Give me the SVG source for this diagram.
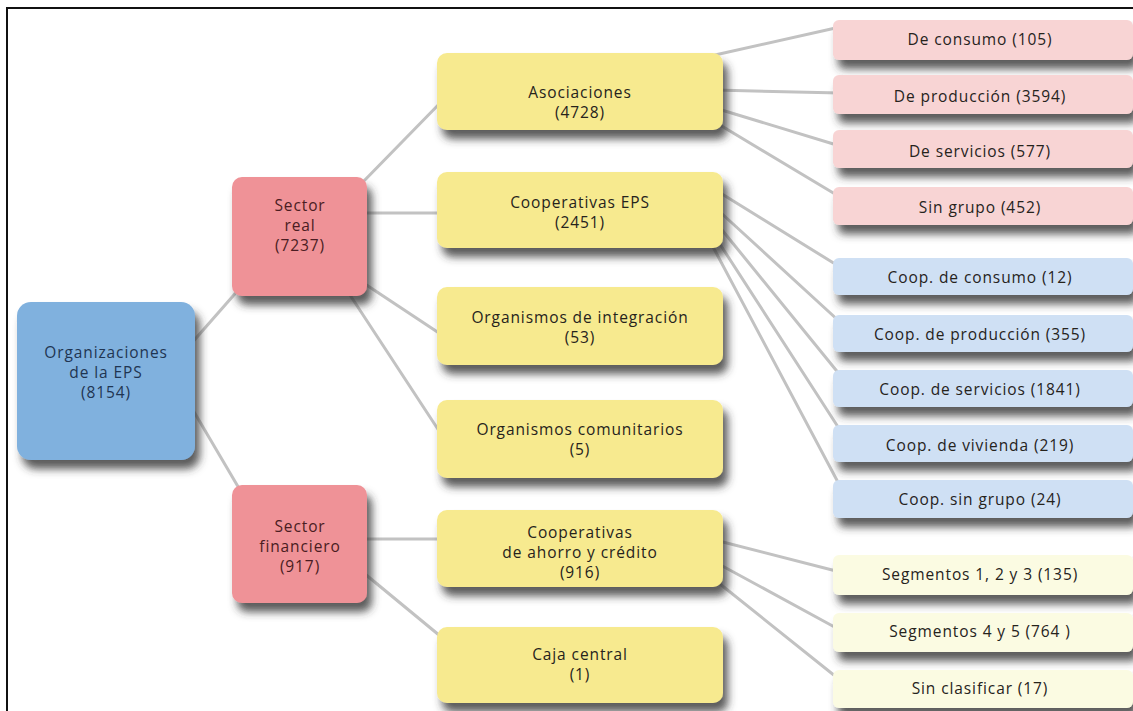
<svg xmlns="http://www.w3.org/2000/svg" width="1133" height="711" viewBox="0 0 1133 711">
<defs>
<filter id="sh" x="-20%" y="-20%" width="150%" height="170%">
<feGaussianBlur in="SourceAlpha" stdDeviation="4.5"/>
<feOffset dx="5" dy="9" result="b"/>
<feFlood flood-color="#333" flood-opacity="0.8"/>
<feComposite in2="b" operator="in"/>
<feMerge><feMergeNode/><feMergeNode in="SourceGraphic"/></feMerge>
</filter>
<style>
text{font-family:"Open Sans","Noto Sans","DejaVu Sans",sans-serif;font-size:15.5px;font-weight:500;letter-spacing:0.9px;text-anchor:middle;fill:#26231c}
.big{filter:url(#sh)}
.root{fill:#80b1de}
.sec{fill:#ef9297}
.mid{fill:#f7ea8f}
.rp{fill:#f8d4d4}
.rb{fill:#cfe0f4}
.ry{fill:#fbfbe2}
.c line{stroke:#c2c2c2;stroke-width:3;stroke-linecap:round}
#root text{fill:#1f3552}
.sect text{fill:#4a1c22}
</style>
</defs>
<rect width="1133" height="711" fill="#fff"/>
<path d="M7 711 V8 H1133" fill="none" stroke="#111" stroke-width="2"/>
<g id="connectors" class="c">
<line x1="190" y1="345" x2="240" y2="288"/>
<line x1="190" y1="405" x2="240" y2="490"/>
<line x1="360" y1="185" x2="445" y2="98"/>
<line x1="360" y1="213" x2="445" y2="213"/>
<line x1="365" y1="284" x2="445" y2="337"/>
<line x1="348" y1="292" x2="445" y2="440"/>
<line x1="360" y1="539" x2="445" y2="539"/>
<line x1="365" y1="574" x2="445" y2="640"/>
<line x1="715" y1="55" x2="840" y2="27"/>
<line x1="715" y1="90" x2="840" y2="93"/>
<line x1="715" y1="108" x2="840" y2="146"/>
<line x1="715" y1="122" x2="840" y2="197"/>
<line x1="722" y1="194" x2="840" y2="267"/>
<line x1="720" y1="212" x2="840" y2="322"/>
<line x1="718" y1="225" x2="840" y2="375"/>
<line x1="716" y1="238" x2="840" y2="430"/>
<line x1="712" y1="245" x2="840" y2="486"/>
<line x1="715" y1="540" x2="840" y2="572"/>
<line x1="715" y1="562" x2="840" y2="630"/>
<line x1="715" y1="580" x2="840" y2="680"/>
</g>
<g id="root"><rect class="root big" x="17" y="302" width="178" height="158" rx="14"/><text x="106" y="358">Organizaciones</text><text x="106" y="378">de la EPS</text><text x="106" y="398">(8154)</text></g>
<g id="sector-real" class="sect"><rect class="sec big" x="232" y="177" width="135" height="119" rx="10"/><text x="300" y="211">Sector</text><text x="300" y="231">real</text><text x="300" y="251">(7237)</text></g>
<g id="sector-financiero" class="sect"><rect class="sec big" x="232" y="485" width="135" height="118" rx="10"/><text x="300" y="532">Sector</text><text x="300" y="552">financiero</text><text x="300" y="572">(917)</text></g>
<g id="asociaciones"><rect class="mid big" x="437" y="53" width="286" height="77" rx="10"/><text x="580" y="98">Asociaciones</text><text x="580" y="118">(4728)</text></g>
<g id="cooperativas-eps"><rect class="mid big" x="437" y="172" width="286" height="76" rx="10"/><text x="580" y="208">Cooperativas EPS</text><text x="580" y="228">(2451)</text></g>
<g id="org-integracion"><rect class="mid big" x="437" y="287" width="286" height="78" rx="10"/><text x="580" y="323">Organismos de integración</text><text x="580" y="343">(53)</text></g>
<g id="org-comunitarios"><rect class="mid big" x="437" y="400" width="286" height="78" rx="10"/><text x="580" y="435">Organismos comunitarios</text><text x="580" y="455">(5)</text></g>
<g id="coop-ahorro"><rect class="mid big" x="437" y="510" width="286" height="77" rx="10"/><text x="580" y="538">Cooperativas</text><text x="580" y="558">de ahorro y crédito</text><text x="580" y="578">(916)</text></g>
<g id="caja-central"><rect class="mid big" x="437" y="627" width="286" height="76" rx="10"/><text x="580" y="660">Caja central</text><text x="580" y="680">(1)</text></g>
<g id="de-consumo"><rect class="rp big" x="833" y="20" width="300" height="40" rx="6"/><text x="980" y="45">De consumo (105)</text></g>
<g id="de-produccion"><rect class="rp big" x="833" y="75" width="300" height="39" rx="6"/><text x="980" y="102">De producción (3594)</text></g>
<g id="de-servicios"><rect class="rp big" x="833" y="130" width="300" height="38" rx="6"/><text x="980" y="157">De servicios (577)</text></g>
<g id="sin-grupo"><rect class="rp big" x="833" y="187" width="300" height="38" rx="6"/><text x="980" y="213">Sin grupo (452)</text></g>
<g id="coop-consumo"><rect class="rb big" x="833" y="258" width="300" height="37" rx="6"/><text x="980" y="283">Coop. de consumo (12)</text></g>
<g id="coop-produccion"><rect class="rb big" x="833" y="315" width="300" height="37" rx="6"/><text x="980" y="340">Coop. de producción (355)</text></g>
<g id="coop-servicios"><rect class="rb big" x="833" y="370" width="300" height="37" rx="6"/><text x="980" y="395">Coop. de servicios (1841)</text></g>
<g id="coop-vivienda"><rect class="rb big" x="833" y="425" width="300" height="37" rx="6"/><text x="980" y="451">Coop. de vivienda (219)</text></g>
<g id="coop-sin-grupo"><rect class="rb big" x="833" y="480" width="300" height="38" rx="6"/><text x="980" y="505">Coop. sin grupo (24)</text></g>
<g id="segmentos-123"><rect class="ry big" x="833" y="555" width="300" height="40" rx="6"/><text x="980" y="580">Segmentos 1, 2 y 3 (135)</text></g>
<g id="segmentos-45"><rect class="ry big" x="833" y="613" width="300" height="39" rx="6"/><text x="980" y="637">Segmentos 4 y 5 (764 )</text></g>
<g id="sin-clasificar"><rect class="ry big" x="833" y="670" width="300" height="38" rx="6"/><text x="980" y="694">Sin clasificar (17)</text></g>
</svg>
